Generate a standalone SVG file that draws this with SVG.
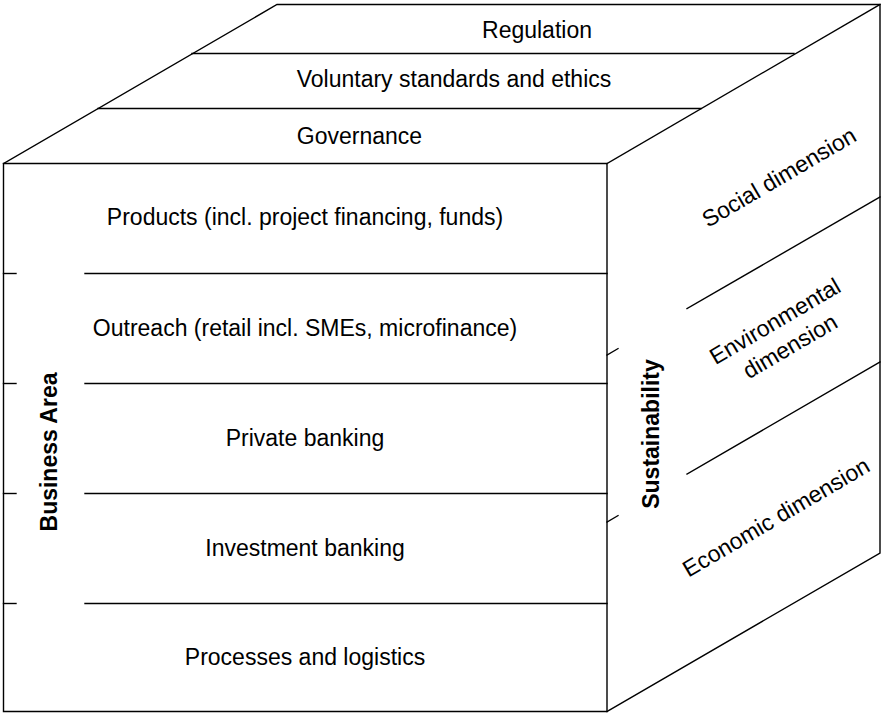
<svg xmlns="http://www.w3.org/2000/svg" width="882" height="713" viewBox="0 0 882 713">
<style>
  .ln { stroke: #000; stroke-width: 1.4; fill: none; stroke-linecap: square; }
  .t { font-family: "Liberation Sans", Arial, sans-serif; font-size: 23px; fill: #000; text-anchor: middle; }
  .b { font-weight: bold; }
</style>
<rect width="882" height="713" fill="#fff"/>
<g id="cube-outline">
  <polygon class="ln" points="3.5,163.5 607,163.5 607,711.5 3.5,711.5"/>
  <polyline class="ln" points="3.5,163.5 277,4.5 880,4.5 880,553 607,711.5"/>
  <line class="ln" x1="607" y1="163.5" x2="880" y2="4.5"/>
</g>
<g id="connectors">
  <line class="ln" x1="192" y1="53.5" x2="794" y2="53.5"/>
  <line class="ln" x1="98" y1="108.5" x2="701" y2="108.5"/>
  <line class="ln" x1="3.5" y1="273.5" x2="16" y2="273.5"/><line class="ln" x1="85" y1="273.5" x2="607" y2="273.5"/>
  <line class="ln" x1="3.5" y1="383.5" x2="16" y2="383.5"/><line class="ln" x1="85" y1="383.5" x2="607" y2="383.5"/>
  <line class="ln" x1="3.5" y1="493.5" x2="16" y2="493.5"/><line class="ln" x1="85" y1="493.5" x2="607" y2="493.5"/>
  <line class="ln" x1="3.5" y1="603.5" x2="16" y2="603.5"/><line class="ln" x1="85" y1="603.5" x2="607" y2="603.5"/>
  <line class="ln" x1="607" y1="355" x2="618" y2="348.6"/><line class="ln" x1="687" y1="308.6" x2="880" y2="197"/>
  <line class="ln" x1="607" y1="522" x2="618" y2="515.6"/><line class="ln" x1="687" y1="474" x2="880" y2="362"/>
</g>
<g id="regulation"><text class="t" x="537" y="38">Regulation</text></g>
<g id="voluntary"><text class="t" x="454" y="87">Voluntary standards and ethics</text></g>
<g id="governance"><text class="t" x="359.5" y="143.5">Governance</text></g>
<g id="products"><text class="t" x="305" y="225">Products (incl. project financing, funds)</text></g>
<g id="outreach"><text class="t" x="305" y="336">Outreach (retail incl. SMEs, microfinance)</text></g>
<g id="private"><text class="t" x="305" y="446">Private banking</text></g>
<g id="investment"><text class="t" x="305" y="556">Investment banking</text></g>
<g id="processes"><text class="t" x="305" y="665">Processes and logistics</text></g>
<g id="business-area"><text class="t b" transform="translate(56.5,452) rotate(-90)">Business Area</text></g>
<g id="sustainability"><text class="t b" transform="translate(658.5,434) rotate(-90)">Sustainability</text></g>
<g id="social"><text class="t" transform="translate(783,184) rotate(-30.4)">Social dimension</text></g>
<g id="environmental"><text class="t" transform="translate(779,328) rotate(-30.4)">Environmental</text><text class="t" transform="translate(794,353) rotate(-30.4)">dimension</text></g>
<g id="economic"><text class="t" transform="translate(780,524) rotate(-30.4)">Economic dimension</text></g>
</svg>
